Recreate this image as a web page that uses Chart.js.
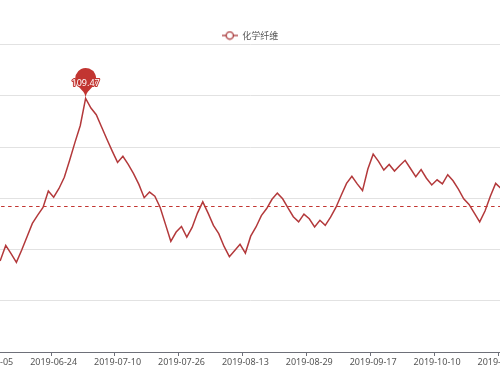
<!DOCTYPE html>
<html>
<head>
<meta charset="utf-8">
<script src="https://cdn.jsdelivr.net/npm/chart.js@4.4.0/dist/chart.umd.min.js"></script>
<style>
  html, body { margin: 0; padding: 0; background: #fff; overflow: hidden; }
  body { width: 500px; height: 375px; position: relative; }
  #wrap { position: absolute; left: -80px; top: 0; width: 660px; height: 375px; }
</style>
</head>
<body>
<div id="wrap"><canvas id="myChart"></canvas></div>
<script>
"use strict";

// trading days shown on the x axis
const dates = [
  "2019-06-05", "2019-06-06", "2019-06-10", "2019-06-11", "2019-06-12", "2019-06-13", "2019-06-14",
  "2019-06-17", "2019-06-18", "2019-06-19", "2019-06-20", "2019-06-21", "2019-06-24", "2019-06-25",
  "2019-06-26", "2019-06-27", "2019-06-28", "2019-07-01", "2019-07-02", "2019-07-03", "2019-07-04",
  "2019-07-05", "2019-07-08", "2019-07-09", "2019-07-10", "2019-07-11", "2019-07-12", "2019-07-15",
  "2019-07-16", "2019-07-17", "2019-07-18", "2019-07-19", "2019-07-22", "2019-07-23", "2019-07-24",
  "2019-07-25", "2019-07-26", "2019-07-29", "2019-07-30", "2019-07-31", "2019-08-01", "2019-08-02",
  "2019-08-05", "2019-08-06", "2019-08-07", "2019-08-08", "2019-08-09", "2019-08-12", "2019-08-13",
  "2019-08-14", "2019-08-15", "2019-08-16", "2019-08-19", "2019-08-20", "2019-08-21", "2019-08-22",
  "2019-08-23", "2019-08-26", "2019-08-27", "2019-08-28", "2019-08-29", "2019-08-30", "2019-09-02",
  "2019-09-03", "2019-09-04", "2019-09-05", "2019-09-06", "2019-09-09", "2019-09-10", "2019-09-11",
  "2019-09-12", "2019-09-16", "2019-09-17", "2019-09-18", "2019-09-19", "2019-09-20", "2019-09-23",
  "2019-09-24", "2019-09-25", "2019-09-26", "2019-09-27", "2019-09-30", "2019-10-08", "2019-10-09",
  "2019-10-10", "2019-10-11", "2019-10-14", "2019-10-15", "2019-10-16", "2019-10-17", "2019-10-18",
  "2019-10-21", "2019-10-22", "2019-10-23", "2019-10-24", "2019-10-25", "2019-10-28", "2019-10-29",
  "2019-10-30"
];

// 化学纤维 index
const values = [
  79.5, 78.5, 77.9, 80.8, 79.2, 77.5, 79.9, 82.5, 85.1, 86.7,
  88.2, 91.4, 90.2, 91.9, 94.1, 97.4, 100.9, 104.2, 109.47, 107.6,
  106.3, 103.9, 101.5, 99.2, 97.0, 98.2, 96.6, 94.8, 92.7, 90.1,
  91.2, 90.4, 88.2, 84.9, 81.6, 83.4, 84.5, 82.4, 84.3, 87.1,
  89.3, 87.1, 84.7, 83.1, 80.6, 78.6, 79.8, 81.0, 79.3, 82.6,
  84.4, 86.6, 88.0, 89.8, 91.0, 89.9, 88.1, 86.4, 85.4, 86.9,
  86.0, 84.4, 85.7, 84.7, 86.3, 88.2, 90.6, 92.9, 94.3, 92.8,
  91.5, 95.7, 98.6, 97.2, 95.5, 96.6, 95.3, 96.4, 97.4, 95.8,
  94.2, 95.6, 93.9, 92.6, 93.6, 92.8, 94.6, 93.4, 91.8, 89.9,
  88.8, 87.1, 85.4, 87.5, 90.4, 92.9, 91.9, 90.8, 91.5
];

const seriesName = "化学纤维";
const avgValue = 88.4; // average mark line
const yTicks = [60, 70, 80, 90, 100, 110, 120];
const labelEvery = 12;

const red = "#c23531";
const lineColor = "#b3393b";

Chart.defaults.font.family = '"Noto Sans", "Noto Sans CJK SC", sans-serif';

function makeLegendIcon() {
  const c = document.createElement("canvas");
  c.width = 16;
  c.height = 10;
  const g = c.getContext("2d");
  g.strokeStyle = "#a83638";
  g.lineWidth = 1.3;
  g.beginPath();
  g.moveTo(0, 5);
  g.lineTo(16, 5);
  g.stroke();
  g.beginPath();
  g.arc(8, 5, 3.6, 0, Math.PI * 2);
  g.fillStyle = "#fff";
  g.fill();
  g.stroke();
  return c;
}

// echarts style "pin" marker, tip sitting on the point
function drawPin(ctx, x, y, size, text) {
  const w = size / 5 * 3;
  const h = Math.max(w, size);
  const r = w / 2;
  const dy = r * r / (h - r);
  const cy = y - h + r + dy;
  const angle = Math.asin(dy / r);
  const dx = Math.cos(angle) * r;
  const tanX = Math.sin(angle);
  const tanY = Math.cos(angle);
  const cpLen = r * 0.6;
  const cpLen2 = r * 0.7;

  ctx.save();
  ctx.beginPath();
  ctx.moveTo(x - dx, cy + dy);
  ctx.arc(x, cy, r, Math.PI - angle, Math.PI * 2 + angle);
  ctx.bezierCurveTo(x + dx - tanX * cpLen, cy + dy + tanY * cpLen, x, y - cpLen2, x, y);
  ctx.bezierCurveTo(x, y - cpLen2, x - dx + tanX * cpLen, cy + dy + tanY * cpLen, x - dx, cy + dy);
  ctx.closePath();
  ctx.fillStyle = red;
  ctx.fill();

  const ty = y - (h - dy) / 2;
  ctx.font = '9px "Noto Sans", sans-serif';
  ctx.textAlign = "center";
  ctx.textBaseline = "middle";
  ctx.lineJoin = "round";
  ctx.strokeStyle = red;
  ctx.lineWidth = 2;
  ctx.strokeText(text, x, ty);
  ctx.fillStyle = "#fff";
  ctx.fillText(text, x, ty);
  ctx.restore();
}

const markPlugin = {
  id: "marks",
  afterDatasetsDraw(chart) {
    const ctx = chart.ctx;
    const area = chart.chartArea;
    const yScale = chart.scales.y;

    // average line
    const ay = Math.round(yScale.getPixelForValue(avgValue)) + 0.5;
    ctx.save();
    ctx.strokeStyle = red;
    ctx.lineWidth = 1;
    ctx.setLineDash([3.5, 3.5]);
    ctx.beginPath();
    ctx.moveTo(area.left, ay);
    ctx.lineTo(area.right, ay);
    ctx.stroke();
    ctx.restore();

    // max point
    const maxIndex = values.indexOf(Math.max(...values));
    const pt = chart.getDatasetMeta(0).data[maxIndex];
    drawPin(ctx, pt.x, pt.y, 35, values[maxIndex].toFixed(2));
  }
};

const data = {
  labels: dates,
  datasets: [
    {
      label: seriesName,
      data: values,
      borderColor: lineColor,
      backgroundColor: "#fff",
      borderWidth: 1.5,
      pointRadius: 0,
      pointHoverRadius: 0,
      tension: 0,
      fill: false,
    },
  ],
};

const config = {
  type: "line",
  data: data,
  options: {
    responsive: true,
    maintainAspectRatio: false,
    animation: false,
    layout: { padding: { top: 31, left: 0, right: 0, bottom: 0 } },
    plugins: {
      tooltip: { enabled: false },
      legend: {
        position: "top",
        align: "center",
        maxHeight: 13.5,
        labels: {
          usePointStyle: true,
          pointStyleWidth: 16,
          padding: 0,
          color: "#555",
          font: { size: 9, family: '"Noto Sans CJK SC", sans-serif' },
          generateLabels(chart) {
            return [{
              text: seriesName,
              pointStyle: makeLegendIcon(),
              fillStyle: "#fff",
              strokeStyle: lineColor,
              lineWidth: 0,
              fontColor: "#555",
              datasetIndex: 0,
              hidden: false,
            }];
          },
        },
      },
    },
    scales: {
      x: {
        type: "category",
        offset: true,
        grid: {
          offset: true,
          drawOnChartArea: false,
          tickLength: 4,
          color: (c) => (c.index % labelEvery === 0 ? "#6E7079" : "rgba(0,0,0,0)"),
        },
        border: { display: true, color: "#6E7079", width: 1 },
        ticks: {
          autoSkip: false,
          maxRotation: 0,
          minRotation: 0,
          padding: 1,
          color: "#555",
          font: { size: 9 },
          callback: function (value, index) {
            return index % labelEvery === 0 ? this.getLabelForValue(value) : "";
          },
        },
        afterFit: (scale) => {
          scale.height = 23;
          scale.paddingRight = 65.7;
        },
      },
      y: {
        min: yTicks[0],
        max: yTicks[yTicks.length - 1],
        afterBuildTicks: (scale) => {
          scale.ticks = yTicks.map((v) => ({ value: v }));
        },
        grid: { color: "#e2e2e2", drawTicks: false },
        border: { display: false },
        ticks: { color: "#555", font: { size: 9 }, padding: 6 },
        afterFit: (scale) => {
          scale.width = 67.1;
        },
      },
    },
  },
  plugins: [markPlugin],
};

const myChart = new Chart(document.getElementById("myChart"), config);
</script>
</body>
</html>
